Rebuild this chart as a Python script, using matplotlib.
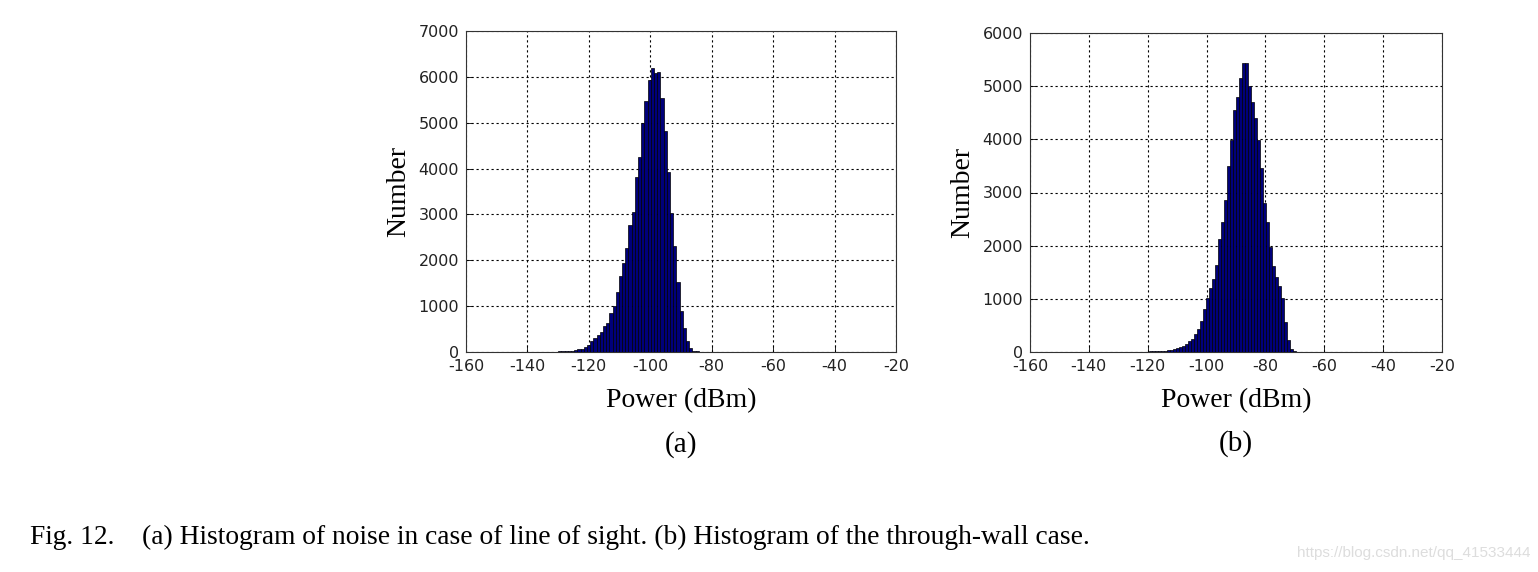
import numpy as np
import matplotlib
matplotlib.use('Agg')
import matplotlib.pyplot as plt

# =============================================================================
# DATA
# =============================================================================
# (a) line of sight: first bin centre, bin width, counts left -> right
bin0_a  = -152.34
width_a = 1.04
counts_a = [8, 10, 10, 8, 0, 4, 2, 3, 4, 2, 2, 3, 3, 4, 4, 5, 5, 6, 6, 8,
            8, 10, 12, 15, 18, 22, 30, 40, 55, 75, 110, 160, 230, 305, 380,
            440, 560, 640, 850, 1000, 1300, 1650, 1950, 2270, 2760, 3060,
            3820, 4260, 4990, 5480, 5940,
            6190,
            6080, 6110, 5530, 4820, 3930, 3040, 2310, 1520, 900, 520, 250,
            85, 30, 12]

# (b) through-wall
bin0_b  = -136.26
width_b = 1.02
counts_b = [5, 0, 0, 0, 0, 0, 3, 3, 3, 4, 4, 5, 5, 5, 6, 6, 8, 10, 12, 12,
            18, 20, 25, 31, 44, 50, 70, 88, 120, 150, 200, 250, 330, 430,
            580, 800, 1016, 1200, 1370, 1640, 2130, 2440, 2865, 3490, 3990,
            4560, 4800, 5150,
            5440, 5440,
            5000, 4700, 4400, 3990, 3460, 2800, 2450, 1980, 1610, 1420, 1250,
            1020, 560, 220, 60, 15]

xticks   = [-160, -140, -120, -100, -80, -60, -40, -20]
yticks_a = [0, 1000, 2000, 3000, 4000, 5000, 6000, 7000]
yticks_b = [0, 1000, 2000, 3000, 4000, 5000, 6000]

xlabel  = 'Power (dBm)'
ylabel  = 'Number'
caption = 'Fig. 12.    (a) Histogram of noise in case of line of sight. (b) Histogram of the through-wall case.'
watermark = 'https://blog.csdn.net/qq_41533444'

# =============================================================================
# FIGURE
# =============================================================================
W, H = 1538, 572
fig = plt.figure(figsize=(W / 100, H / 100), dpi=100)
fig.patch.set_facecolor('white')

def px_axes(l, t, r, b):
    return fig.add_axes([l / W, 1 - b / H, (r - l) / W, (b - t) / H])

ax_a = px_axes(466, 31, 896, 352)
ax_b = px_axes(1030, 33, 1442, 352)

panels = [
    (ax_a, bin0_a, width_a, counts_a, yticks_a, '(a)', 0.287),
    (ax_b, bin0_b, width_b, counts_b, yticks_b, '(b)', 0.288),
]

for ax, b0, w, counts, yt, tag, tag_y in panels:
    centers = b0 + w * np.arange(len(counts))
    ax.bar(centers, counts, width=w, color='#00007A', edgecolor='black',
           linewidth=0.5, zorder=3)
    ax.set_xlim(-160, -20)
    ax.set_ylim(yt[0], yt[-1])
    ax.set_xticks(xticks)
    ax.set_yticks(yt)
    ax.set_xticklabels([str(v) for v in xticks], family='DejaVu Sans',
                       fontsize=11.5, color='#222222')
    ax.set_yticklabels([str(v) for v in yt], family='DejaVu Sans',
                       fontsize=11.5, color='#222222')
    ax.tick_params(direction='in', length=4, width=0.6, pad=5)
    ax.grid(True, linestyle=(0, (2, 2.5)), color='black', linewidth=0.8, zorder=0)
    ax.set_axisbelow(True)
    for s in ax.spines.values():
        s.set_linewidth(0.8)
        s.set_color('#333333')
    ax.set_xlabel(xlabel, family='Liberation Serif', fontsize=20, labelpad=10)
    ax.set_ylabel(ylabel, family='Liberation Serif', fontsize=20, labelpad=5)
    ax.text(0.5, -tag_y, tag, transform=ax.transAxes, ha='center', va='center',
            family='Liberation Serif', fontsize=21)

fig.text(30 / W, 1 - 537 / H, caption, ha='left', va='center',
         family='Liberation Serif', fontsize=19.8)
fig.text(1530 / W, 1 - 553 / H, watermark, ha='right', va='center',
         family='Liberation Sans', fontsize=11, color='#dddddd')

fig.savefig('out.png', dpi=100)
